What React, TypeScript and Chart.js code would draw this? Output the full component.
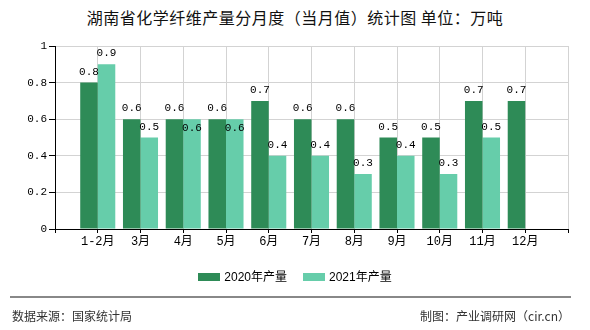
import React, { useEffect, useRef } from "react";
import { Chart, registerables } from "chart.js";

Chart.register(...registerables);

const categories = ["", "1-2月", "3月", "4月", "5月", "6月", "7月", "8月", "9月", "10月", "11月", "12月", ""];
const series2020 = [null, 0.8, 0.6, 0.6, 0.6, 0.7, 0.6, 0.6, 0.5, 0.5, 0.7, 0.7, null];
const series2021 = [null, 0.9, 0.5, 0.6, 0.6, 0.4, 0.4, 0.3, 0.4, 0.3, 0.5, null, null];
const yTicks = [0, 0.2, 0.4, 0.6, 0.8, 1];

const TITLE = "湖南省化学纤维产量分月度（当月值）统计图 单位：万吨";
const SOURCE = "数据来源：国家统计局";
const CREDIT = "制图：产业调研网（cir.cn）";

const C2020 = "#2E8B57";
const C2021 = "#66CDAA";
const MONO = "'Liberation Mono', 'Noto Sans CJK SC', monospace";

const valueLabels = {
  id: "valueLabels",
  afterDatasetsDraw(chart: any) {
    const ctx = chart.ctx;
    ctx.save();
    ctx.font = `11px ${MONO}`;
    ctx.fillStyle = "#000";
    ctx.textAlign = "center";
    ctx.textBaseline = "alphabetic";
    const sets = chart.data.datasets;
    sets.forEach((ds: any, di: number) => {
      const meta = chart.getDatasetMeta(di);
      meta.data.forEach((el: any, i: number) => {
        const v = ds.data[i];
        if (v === null || v === undefined) return;
        let y = el.y - 8;
        // avoid overlapping with the previous series' label at the same height
        if (di > 0) {
          const prev = sets[di - 1].data[i];
          if (prev !== null && prev !== undefined && Math.abs(prev - v) < 0.05) y += 20;
        }
        ctx.fillText(String(v), el.x, y);
      });
    });
    ctx.restore();
  },
};

export default function App() {
  const ref = useRef<HTMLCanvasElement | null>(null);
  useEffect(() => {
    if (!ref.current) return;
    const chart = new Chart(ref.current, {
      type: "bar",
      data: {
        labels: categories,
        datasets: [
          { label: "2020年产量", data: series2020, backgroundColor: C2020, categoryPercentage: 0.82, barPercentage: 1 },
          { label: "2021年产量", data: series2021, backgroundColor: C2021, categoryPercentage: 0.82, barPercentage: 1 },
        ],
      },
      options: {
        animation: false,
        responsive: false,
        maintainAspectRatio: false,
        layout: { padding: { left: 0, right: 22, top: 46, bottom: 0 } },
        plugins: { legend: { display: false }, title: { display: false }, tooltip: { enabled: false } },
        scales: {
          x: {
            type: "category",
            offset: false,
            grid: { offset: false, color: "#d3d3d3", tickColor: "#000", tickLength: 4, drawOnChartArea: true },
            border: { color: "#000", width: 1 },
            ticks: { autoSkip: false, maxRotation: 0, minRotation: 0, color: "#000", font: { size: 12, family: MONO }, padding: 2 },
            afterFit(scale: any) { scale.height = 101; },
          },
          y: {
            min: 0,
            max: 1,
            afterBuildTicks(scale: any) { scale.ticks = yTicks.map((v) => ({ value: v })); },
            grid: { color: "#d3d3d3", tickColor: "#000", tickLength: 6 },
            border: { color: "#000", width: 1 },
            ticks: { color: "#000", font: { size: 11, family: MONO }, padding: 2, callback: (v: any) => String(v) },
            afterFit(scale: any) { scale.width = 55; },
          },
        },
      },
      plugins: [valueLabels],
    });
    return () => chart.destroy();
  }, []);

  const sans = "'Noto Sans CJK SC', 'Liberation Sans', sans-serif";
  return (
    <div style={{ position: "absolute", left: 0, top: 0, width: 590, height: 330, background: "#fff", fontFamily: sans }}>
      <div style={{ position: "absolute", left: 0, top: 6, width: 590, textAlign: "center", fontSize: 16, letterSpacing: 0.5, lineHeight: "22px", color: "#111" }}>
        {TITLE}
      </div>
      <canvas ref={ref} width={590} height={330} style={{ position: "absolute", left: 0, top: 0, width: 590, height: 330 }} />
      <div style={{ position: "absolute", left: 0, top: 268, width: 590, display: "flex", justifyContent: "center", alignItems: "center", fontSize: 12, lineHeight: "18px", color: "#000", fontFamily: "'Liberation Sans', 'Noto Sans CJK SC', sans-serif" }}>
        <span style={{ display: "inline-block", width: 22, height: 8, background: C2020, marginRight: 4 }} />
        <span style={{ marginRight: 16 }}>2020年产量</span>
        <span style={{ display: "inline-block", width: 22, height: 8, background: C2021, marginRight: 4 }} />
        <span>2021年产量</span>
      </div>
      <div style={{ position: "absolute", left: 10, top: 296, width: 561, height: 0, borderTop: "2px solid #888" }} />
      <div style={{ position: "absolute", left: 12, top: 307, fontSize: 12, lineHeight: "18px", color: "#333" }}>{SOURCE}</div>
      <div style={{ position: "absolute", right: 20, top: 307, fontSize: 12, lineHeight: "18px", color: "#333" }}>{CREDIT}</div>
    </div>
  );
}
